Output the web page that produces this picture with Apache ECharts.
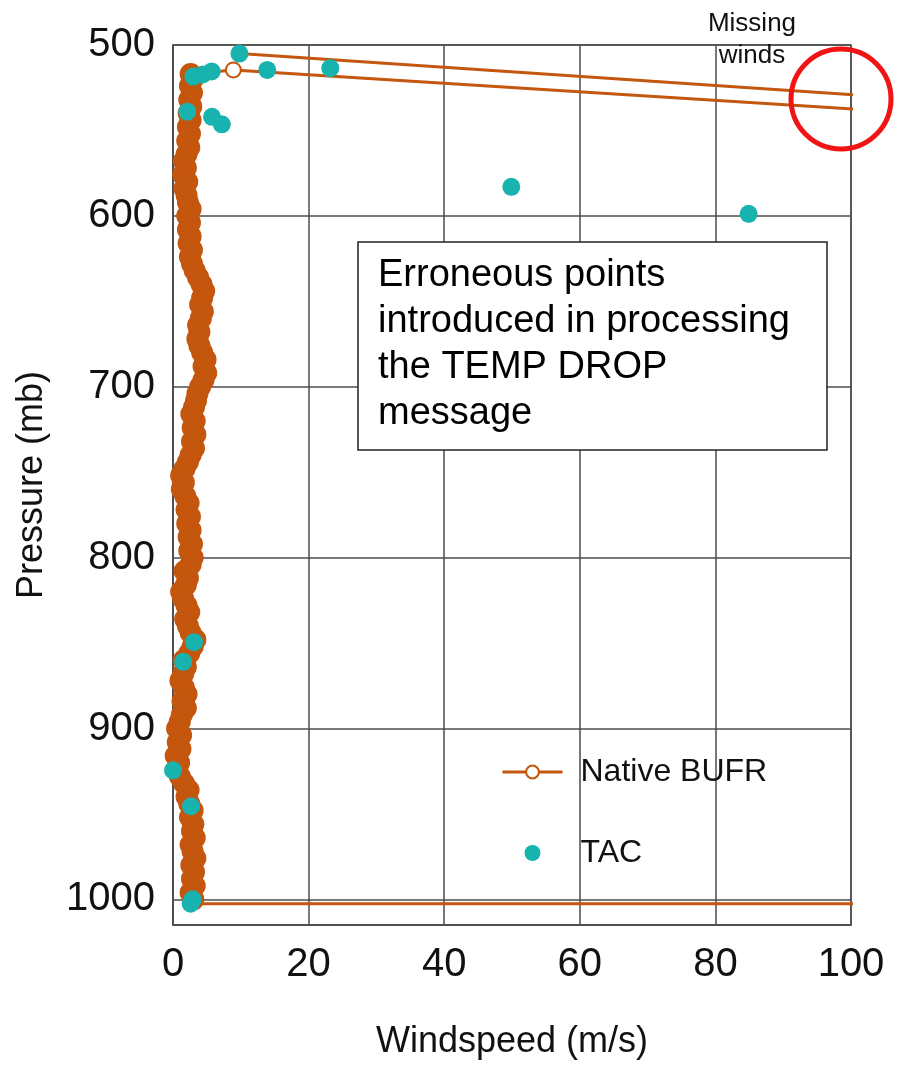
<!DOCTYPE html>
<html>
<head>
<meta charset="utf-8">
<script src="https://cdn.jsdelivr.net/npm/echarts@6/dist/echarts.min.js"></script>
<style>
html,body{margin:0;padding:0;background:#fff;}
#chart{width:897px;height:1067px;}
</style>
</head>
<body>
<div id="chart"></div>
<script>
// ---- data ----
const xTicks = [0, 20, 40, 60, 80, 100];
const yTicks = [500, 600, 700, 800, 900, 1000];

// Native BUFR dense profile (pressure mb, windspeed m/s), surface upward
const profilePressure = [1000,996,992,988,984,980,976,972,968,964,960,956,952,948,944,940,936,932,928,924,920,916,912,908,904,900,896,892,888,884,880,876,872,868,864,860,856,852,848,844,840,836,832,828,824,820,816,812,808,804,800,796,792,788,784,780,776,772,768,764,760,756,752,748,744,740,736,732,728,724,720,716,712,708,704,700,696,692,688,684,680,676,672,668,664,660,656,652,648,644,640,636,632,628,624,620,616,612,608,604,600,596,592,588,584,580,576,572,568,564,560,556,552,548,544,540,536,532,528,524,520,517];
const profileSpeed = [3.0,2.6,3.2,2.8,3.1,2.7,3.3,2.9,2.6,3.2,2.8,3.0,2.5,2.9,2.4,2.0,2.3,1.6,1.0,0.5,0.9,0.4,1.1,0.7,1.2,0.6,1.0,1.3,1.9,1.4,2.0,1.6,1.1,1.5,1.9,1.6,2.4,2.9,3.3,2.6,2.2,1.8,2.4,2.0,1.5,1.2,1.9,2.2,1.7,2.6,2.9,2.4,2.8,2.3,2.6,2.1,2.5,2.0,2.3,1.8,1.3,1.6,1.2,1.7,2.2,2.6,3.1,2.8,3.3,2.9,3.2,2.7,3.1,3.4,3.6,4.0,4.5,4.9,4.5,4.8,4.3,3.9,3.6,3.9,3.7,4.1,4.4,4.0,4.3,4.6,4.2,3.7,3.2,2.8,2.5,2.8,2.3,2.6,2.2,2.5,2.1,2.6,2.2,2.0,1.7,2.1,1.5,1.9,1.6,2.0,2.4,2.1,2.5,2.2,2.6,2.3,2.7,2.4,2.8,2.5,2.9,2.6];

// Native BUFR surface level with missing wind (off-scale)
const bottomSpeed = [200, 3.0];
const bottomPressure = [1002.5, 1002.5];
// Native BUFR upper levels, incl. off-scale "missing" winds
const topSpeed = [8.9, 200, 200, 9.8];
const topPressure = [514.6, 562.4, 555.6, 505];
const topKind = ['hollow', 'none', 'none', 'hollow'];

// TAC points
const tacSpeed = [9.8, 3.0, 4.4, 5.7, 13.9, 23.2, 2.1, 5.75, 7.2, 49.9, 84.9, 3.1, 1.5, 0.0, 2.65, 2.9, 2.6];
const tacPressure = [505, 518.5, 517.2, 515.5, 514.6, 513.6, 539, 542, 546.4, 583, 598.8, 849.5, 861, 924.5, 945.5, 1000, 1002.5];

// ---- build ----
const ORANGE = '#c4560e';
const TEAL = '#18b3ae';
const FONT = 'Liberation Sans, Arial, sans-serif';

const nativeData = [];
bottomSpeed.forEach((s, i) => nativeData.push({value: [s, bottomPressure[i]], symbol: 'none'}));
profileSpeed.forEach((s, i) => nativeData.push({value: [s, profilePressure[i]], symbol: 'circle', symbolSize: 19}));
topSpeed.forEach((s, i) => nativeData.push(topKind[i] === 'none'
  ? {value: [s, topPressure[i]], symbol: 'none'}
  : {value: [s, topPressure[i]], symbol: 'emptyCircle', symbolSize: 15}));

const tacData = tacSpeed.map((s, i) => [s, tacPressure[i]]);

const chart = echarts.init(document.getElementById('chart'), null, {renderer: 'canvas'});
chart.setOption({
  backgroundColor: '#fff',
  animation: false,
  textStyle: {fontFamily: FONT},
  grid: {left: 173, right: 46, top: 45, bottom: 142, show: true, borderColor: '#4d4d4d', borderWidth: 1.5, backgroundColor: 'transparent'},
  xAxis: {
    type: 'value', min: xTicks[0], max: xTicks[xTicks.length - 1], interval: 20,
    name: 'Windspeed (m/s)', nameLocation: 'middle', nameGap: 99,
    nameTextStyle: {fontSize: 36, color: '#111', fontFamily: FONT},
    axisLine: {show: true, lineStyle: {color: '#4d4d4d', width: 1.5}},
    axisTick: {show: false},
    axisLabel: {fontSize: 40, color: '#111', margin: 20, fontFamily: FONT},
    splitLine: {show: true, lineStyle: {color: '#4d4d4d', width: 1.5}}
  },
  yAxis: {
    type: 'value', inverse: true, min: yTicks[0], max: 1015, interval: 100,
    name: 'Pressure (mb)', nameLocation: 'middle', nameGap: 123, nameRotate: 90,
    nameTextStyle: {fontSize: 36, color: '#111', fontFamily: FONT},
    axisLine: {show: true, lineStyle: {color: '#4d4d4d', width: 1.5}},
    axisTick: {show: false},
    axisLabel: {fontSize: 40, color: '#111', margin: 18, fontFamily: FONT,
      formatter: v => (yTicks.indexOf(v) >= 0 ? String(v) : '')},
    splitLine: {show: true, lineStyle: {color: '#4d4d4d', width: 1.5}}
  },
  legend: {
    orient: 'vertical', left: 496, top: 751, itemWidth: 60, itemHeight: 16, itemGap: 49,
    data: [
      {name: 'Native BUFR', itemStyle: {borderWidth: 2.5}, lineStyle: {width: 3}},
      {name: 'TAC'}
    ],
    textStyle: {fontSize: 32, color: '#111', fontFamily: FONT, padding: [0, 0, 0, 13]}
  },
  series: [
    {
      name: 'Native BUFR', type: 'line', data: nativeData,
      symbol: 'emptyCircle', symbolSize: 13, clip: true,
      lineStyle: {color: ORANGE, width: 3},
      itemStyle: {color: ORANGE, borderColor: ORANGE, borderWidth: 3},
      z: 2
    },
    {
      name: 'TAC', type: 'scatter', data: tacData,
      symbol: 'circle', symbolSize: 18,
      itemStyle: {color: TEAL, opacity: 1},
      z: 3
    }
  ],
  graphic: [
    {type: 'circle', shape: {cx: 841, cy: 99, r: 50}, style: {fill: 'none', stroke: '#f01414', lineWidth: 5}, z: 100},
    {type: 'text', x: 752, y: 8, style: {text: 'Missing\nwinds', font: '26px ' + FONT, fill: '#111', align: 'center', verticalAlign: 'top', lineHeight: 32}, z: 100},
    {type: 'rect', shape: {x: 358, y: 242, width: 469, height: 208}, style: {fill: '#fff', stroke: '#222', lineWidth: 1.5}, z: 100},
    {type: 'text', x: 378, y: 253, style: {text: 'Erroneous points\nintroduced in processing\nthe TEMP DROP\nmessage', font: '38px ' + FONT, fill: '#000', align: 'left', verticalAlign: 'top', lineHeight: 46}, z: 101}
  ]
});
</script>
</body>
</html>
